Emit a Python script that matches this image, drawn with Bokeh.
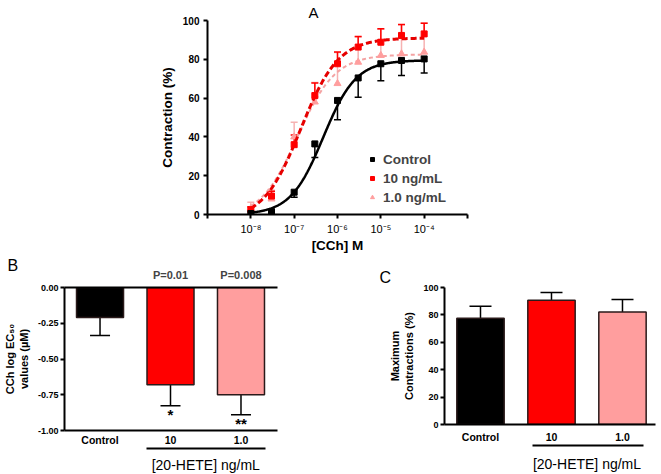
import numpy as np
from bokeh.plotting import figure
from bokeh.models import (ColumnDataSource, Whisker, FixedTicker, LinearAxis,
                          Legend, LegendItem, Range1d, Spacer, TeeHead)
from bokeh.layouts import column, row
from bokeh.embed import file_html
from bokeh.resources import INLINE
from bokeh.core.properties import value

# ---------------- data ----------------
conc = [1e-8, 3e-8, 1e-7, 3e-7, 1e-6, 3e-6, 1e-5, 3e-5, 1e-4]
ctrl = [0.5, 1.5, 11.5, 36.4, 58.8, 70.4, 77.7, 79.4, 80.2]
ctrl_err = [0.5, 1.0, 2.6, 7.0, 10.0, 10.0, 8.7, 7.8, 7.2]
h10 = [2.5, 9.5, 36.0, 61.3, 77.7, 86.3, 88.8, 92.3, 93.1]
h10_err = [1.5, 2.5, 5.0, 6.5, 6.0, 5.5, 7.0, 5.7, 5.5]
h1 = [3.0, 8.0, 40.0, 58.0, 67.5, 78.5, 82.0, 82.8, 83.7]
h1_err = [3.3, 4.5, 7.6, 10.0, 16.0, 13.0, 13.5, 15.0, 15.0]

# fitted sigmoid parameters: bottom, top, logEC50, hill slope
fit_ctrl = [0.0, 79.5, -6.33, 1.15]
fit_h10 = [-3.0, 91.0, -6.85, 1.0]
fit_h1 = [-2.0, 82.5, -6.92, 1.0]

x_ticks = [1e-9, 1e-8, 1e-7, 1e-6, 1e-5, 1e-4, 1e-3]
x_tick_labels = ["", "10\u207b\u2078", "10\u207b\u2077", "10\u207b\u2076", "10\u207b\u2075", "10\u207b\u2074", ""]
legend_labels = ["Control", "10 ng/mL", "1.0 ng/mL"]

groups = ["Control", "10", "1.0"]
ec50 = [-0.21, -0.68, -0.75]
ec50_err = [0.125, 0.147, 0.14]
p_labels = ["P=0.01", "P=0.008"]
stars = ["*", "**"]
maxc = [77.5, 90.7, 82.2]
maxc_err = [8.9, 5.7, 9.0]
group_title = "[20-HETE] ng/mL"
panel_letters = ["A", "B", "C"]

BLACK = "#000000"
RED = "#FF0000"
PINK = "#FF9E9E"
RED_LINE = "#E60000"
PINK_LINE = "#F4A3A3"
PINK_ERR = "#F6B2B2"
FONT = "Liberation Sans"


def hill(params, x):
    b, t, l, h = params
    return b + (t - b) / (1.0 + 10 ** ((l - np.log10(x)) * h))


def style_axis(ax, size="10px"):
    ax.axis_line_width = 2
    ax.axis_line_color = "black"
    ax.major_tick_line_width = 2
    ax.major_tick_in = 0
    ax.major_tick_out = 4
    ax.minor_tick_line_color = None
    ax.major_label_text_font = FONT
    ax.major_label_text_font_style = "bold"
    ax.major_label_text_font_size = size
    ax.major_label_text_color = "black"
    ax.axis_label_text_font = FONT
    ax.axis_label_text_font_style = "bold"
    ax.axis_label_text_color = "black"


def style_title(p, text, size, offset, standoff):
    p.title.text = text
    p.title.align = "left"
    p.title.offset = offset
    p.title.standoff = standoff
    p.title.text_font = FONT
    p.title.text_font_style = "normal"
    p.title.text_font_size = size
    p.title.text_color = "black"


# ---------------- panel A ----------------
pA = figure(frame_width=260, frame_height=194, x_axis_type="log",
            x_range=Range1d(1e-9, 1e-3), y_range=Range1d(0, 100),
            min_border_left=57, min_border_right=13, min_border_top=20, min_border_bottom=41,
            output_backend="svg", toolbar_location=None)
pA.outline_line_color = None
pA.grid.visible = False
style_title(pA, panel_letters[0], "15px", 101, 0)
style_axis(pA.xaxis[0], "11px")
style_axis(pA.yaxis[0])
pA.xaxis[0].major_label_text_font_style = "normal"
pA.xaxis[0].ticker = FixedTicker(ticks=x_ticks)
pA.xaxis[0].major_label_overrides = {t: l for t, l in zip(x_ticks, x_tick_labels)}
pA.xaxis[0].major_label_standoff = 4
pA.yaxis[0].ticker = FixedTicker(ticks=[0, 20, 40, 60, 80, 100])
pA.yaxis[0].major_label_standoff = 4
pA.xaxis[0].axis_label = "[CCh] M"
pA.yaxis[0].axis_label = "Contraction (%)"
pA.xaxis[0].axis_label_text_font_size = "13.5px"
pA.yaxis[0].axis_label_text_font_size = "13.5px"
pA.xaxis[0].axis_label_standoff = 0
pA.yaxis[0].axis_label_standoff = 5

xs = np.logspace(-8, -4, 300)
renderers = []
series = [
    (h1, h1_err, fit_h1, PINK, PINK_LINE, PINK_ERR, "triangle", 7, "4 3", 2.0, "up"),
    (h10, h10_err, fit_h10, RED, RED_LINE, RED, "square", 6, "6 3", 3.0, "up"),
    (ctrl, ctrl_err, fit_ctrl, BLACK, BLACK, BLACK, "square", 6, "solid", 2.5, "down"),
]
for vals, errs, fit, mcol, lcol, ecol, marker, msize, dash, lw, direc in series:
    v = np.array(vals)
    e = np.array(errs)
    if direc == "up":
        up, lo = v + e, v
    else:
        up, lo = v, v - e
    src = ColumnDataSource(dict(x=conc, y=vals, up=up, lo=lo))
    wh = Whisker(base="x", upper="up", lower="lo", source=src, dimension="height",
                 line_color=ecol, line_width=1.5)
    head = TeeHead(size=7, line_color=ecol, line_width=1.5)
    if direc == "up":
        wh.upper_head = head
        wh.lower_head = None
    else:
        wh.lower_head = head
        wh.upper_head = None
    pA.add_layout(wh)
    pA.line(xs, hill(fit, xs), line_color=lcol, line_width=lw, line_dash=dash)
    r = pA.scatter("x", "y", source=src, marker=marker, size=msize,
                   fill_color=mcol, line_color=mcol)
    renderers.append(r)

leg = Legend(items=[LegendItem(label=legend_labels[0], renderers=[renderers[2]]),
                    LegendItem(label=legend_labels[1], renderers=[renderers[1]]),
                    LegendItem(label=legend_labels[2], renderers=[renderers[0]])],
             location=(160, 9), padding=0, margin=0, spacing=3,
             glyph_width=10, glyph_height=16, label_standoff=6,
             label_text_font=FONT, label_text_font_style="bold", label_text_font_size="13.5px",
             border_line_color=None, background_fill_alpha=0)
pA.add_layout(leg)


# ---------------- bar panels ----------------
def bar_panel(vals, errs, yr, yticks, ylabel, xr, frame_w, frame_h, mb_left, mb_right,
              mb_top, mb_bottom, bounds, std1, std2, cap):
    p = figure(frame_width=frame_w, frame_height=frame_h, x_range=xr, y_range=yr,
               min_border_left=mb_left, min_border_right=mb_right,
               min_border_top=mb_top, min_border_bottom=mb_bottom,
               output_backend="svg", toolbar_location=None)
    p.outline_line_color = None
    p.grid.visible = False
    style_axis(p.xaxis[0], "10.5px")
    style_axis(p.yaxis[0], "9px")
    p.yaxis[0].ticker = FixedTicker(ticks=yticks)
    p.yaxis[0].major_label_standoff = 2
    p.yaxis[0].axis_label = ylabel
    p.yaxis[0].axis_label_text_font_size = "11px"
    p.yaxis[0].axis_label_standoff = 5
    p.xaxis[0].ticker = FixedTicker(ticks=[0, 1, 2])
    p.xaxis[0].major_label_overrides = {i: g for i, g in enumerate(groups)}
    p.xaxis[0].major_tick_out = 0
    p.xaxis[0].major_label_standoff = std1
    # group bracket line under 10 and 1.0
    ax2 = LinearAxis(ticker=FixedTicker(ticks=[1.5]), bounds=bounds,
                     major_label_overrides={1.5: group_title})
    ax2.axis_line_width = 2
    ax2.major_tick_line_color = None
    ax2.minor_tick_line_color = None
    ax2.major_label_standoff = std2
    ax2.major_label_text_font = FONT
    ax2.major_label_text_font_size = "14px"
    ax2.major_label_text_font_style = "normal"
    ax2.major_label_text_color = "black"
    p.add_layout(ax2, "below")

    src = ColumnDataSource(dict(x=[0, 1, 2], top=vals,
                                end=[v + (e if v > 0 else -e) for v, e in zip(vals, errs)],
                                color=[BLACK, RED, PINK]))
    wh = Whisker(base="x", upper="end", lower="top", source=src, dimension="height",
                 line_color="black", line_width=1.5, lower_head=None,
                 upper_head=TeeHead(size=cap, line_color="black", line_width=1.5))
    if vals[0] < 0:
        wh.upper = "top"
        wh.lower = "end"
        wh.upper_head = None
        wh.lower_head = TeeHead(size=cap, line_color="black", line_width=1.5)
    p.add_layout(wh)
    p.vbar(x="x", top="top", bottom=0, width=0.667, source=src, fill_color="color",
           line_color="#2a1a1a", line_width=1.5)
    return p, src


pB, srcB = bar_panel(ec50, ec50_err, Range1d(-1.0, 0.0), [0, -0.25, -0.5, -0.75, -1.0],
                     "CCh log EC\u2085\u2080\nvalues (\u00b5M)", Range1d(-0.504, 2.518),
                     213, 143, 64, 13, 32, 41, (0.66, 2.35), 3, 2, 20)
style_title(pB, panel_letters[1], "16px", -57, -16)
pB.yaxis[0].major_label_overrides = {0: "0.00", -0.25: "-0.25", -0.5: "-0.50",
                                     -0.75: "-0.75", -1.0: "-1.00"}
top_ax = LinearAxis(ticker=FixedTicker(ticks=[1, 2]),
                    major_label_overrides={1: p_labels[0], 2: p_labels[1]})
top_ax.axis_line_width = 2
top_ax.major_tick_line_color = None
top_ax.minor_tick_line_color = None
top_ax.major_label_standoff = 1
top_ax.major_label_text_font = FONT
top_ax.major_label_text_font_style = "bold"
top_ax.major_label_text_font_size = "11px"
pB.add_layout(top_ax, "above")
star_y = [v - e - 0.004 for v, e in zip(ec50[1:], ec50_err[1:])]
pB.text(x=[1, 2], y=star_y, text=stars, text_font=value(FONT), text_font_style="bold",
        text_font_size="15px", text_align="center", text_baseline="top")

pC, srcC = bar_panel(maxc, maxc_err, Range1d(0, 100), [0, 20, 40, 60, 80, 100],
                     "Maximum\nContractions (%)", Range1d(-0.507, 2.465),
                     211, 137, 154, 2, 32, 47, (0.728, 2.296), 6, 4, 22)
style_title(pC, panel_letters[2], "16px", -65, 4)

layout = column(row(Spacer(width=150, height=255), pA), row(pB, pC))
open("out.html", "w").write(file_html(layout, INLINE))
